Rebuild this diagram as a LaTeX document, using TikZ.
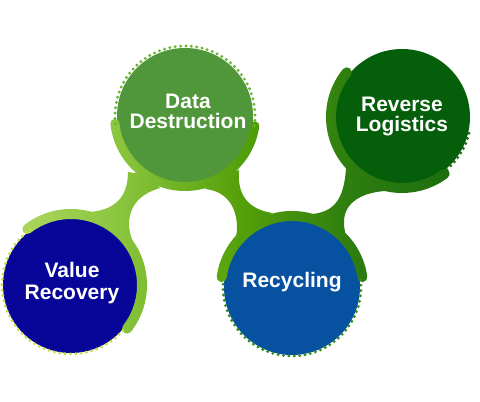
\documentclass[tikz,border=0pt]{standalone}
\usepackage{fontspec}
\setmainfont{Liberation Sans}
\definecolor{g0}{RGB}{178,216,100}
\definecolor{g1}{RGB}{140,198,63}
\definecolor{g2}{RGB}{84,160,10}
\definecolor{g3}{RGB}{44,124,16}
\definecolor{g4}{RGB}{25,105,15}
\definecolor{vrblue}{RGB}{8,6,152}
\definecolor{rcblue}{RGB}{6,82,160}
\definecolor{ddgreen}{RGB}{80,150,58}
\definecolor{rlgreen}{RGB}{4,94,10}
\definecolor{vrdot}{RGB}{196,222,60}
\definecolor{dddot}{RGB}{105,180,45}
\definecolor{rldot}{RGB}{30,110,20}
\definecolor{rcdot}{RGB}{50,140,28}
\pgfdeclarehorizontalshading{bandshade}{100bp}{color(0bp)=(g0); color(25bp)=(g0); color(37bp)=(g1); color(50bp)=(g2); color(62bp)=(g3); color(75bp)=(g4); color(100bp)=(g4)}
\tikzset{
  txt/.style={text=white, font=\bfseries\fontsize{21}{20}\selectfont, align=center, inner sep=0pt},
  dots/.style={line width=3.2pt, dash pattern=on 0pt off 5.4pt, line cap=round},
}
\newcommand\greenpiece[1]{\begin{scope}\clip #1; \shade[shading=bandshade] (0,0) rectangle (480,402);\end{scope}}
\begin{document}
\begin{tikzpicture}[x=1pt,y=1pt]
\useasboundingbox (0,0) rectangle (480,402);
\fill[white] (0,0) rectangle (480,402);
\coordinate (vr) at (71,117);
\coordinate (dd) at (185,286);
\coordinate (rl) at (402,285);
\coordinate (rc) at (292,115);
% main discs
\fill[vrblue] (vr) circle[radius=68pt];
\fill[ddgreen] (dd) circle[radius=68pt];
\fill[rlgreen] (rl) circle[radius=68pt];
\fill[rcblue] (rc) circle[radius=68pt];
% necks
\greenpiece{(90,190) .. controls (113,192) and (128,203) .. (128,230) -- (147,227) -- (160,214) .. controls (140,208) and (130,197) .. (129,179) .. controls (129,167) and (133,159) .. (139,152) -- (115,172) -- cycle}
\greenpiece{(205,213) .. controls (225,211) and (237,197) .. (237,174) .. controls (237,162) and (231,153) .. (223,146) -- (247,168) -- (272,189) .. controls (248,193) and (237,207) .. (239,232) -- (220,226) -- cycle}
\greenpiece{(312,188) .. controls (332,190) and (344,200) .. (346,234) -- (367,225) -- (385,211) .. controls (358,209) and (344,197) .. (344,180) .. controls (344,166) and (349,157) .. (358,152) -- (335,170) -- cycle}
% bands
\greenpiece{(vr) ++(128:76pt) arc[start angle=128,end angle=-38,radius=76pt] arc[start angle=-38,end angle=-218,radius=5pt] arc[start angle=-38,end angle=128,radius=66pt] arc[start angle=308,end angle=128,radius=5pt] -- cycle}
\greenpiece{(dd) ++(186:75pt) arc[start angle=186,end angle=352,radius=75pt] arc[start angle=352,end angle=532,radius=4.5pt] arc[start angle=352,end angle=186,radius=66pt] arc[start angle=6,end angle=186,radius=4.5pt] -- cycle}
\greenpiece{(rl) ++(141:76pt) arc[start angle=141,end angle=307,radius=76pt] arc[start angle=307,end angle=487,radius=5pt] arc[start angle=307,end angle=141,radius=66pt] arc[start angle=-39,end angle=141,radius=5pt] -- cycle}
\greenpiece{(rc) ++(172:76pt) arc[start angle=172,end angle=8,radius=76pt] arc[start angle=8,end angle=-172,radius=5pt] arc[start angle=8,end angle=172,radius=66pt] arc[start angle=352,end angle=172,radius=5pt] -- cycle}
% dotted rims
\draw[dots, vrdot] (vr) ++(126:69pt) arc[start angle=126,end angle=320,radius=69pt];
\draw[dots, dddot] (dd) ++(-8:70pt) arc[start angle=-8,end angle=188,radius=70pt];
\draw[dots, rldot] (rl) ++(306:69pt) arc[start angle=306,end angle=347,radius=69pt];
\draw[dots, rcdot] (rc) ++(6:69pt) arc[start angle=6,end angle=-186,radius=69pt];
% labels
\node[txt] (tdd) at (188,291) {Data\\Destruction};
\node[txt] (trl) at (402,285.5) {Reverse\\Logistics};
\node[txt, font=\bfseries\fontsize{21}{22}\selectfont] (tvr) at (72,118.5) {Value\\Recovery};
\node[txt] (trc) at (292,119.5) {Recycling};
\end{tikzpicture}
\end{document}
